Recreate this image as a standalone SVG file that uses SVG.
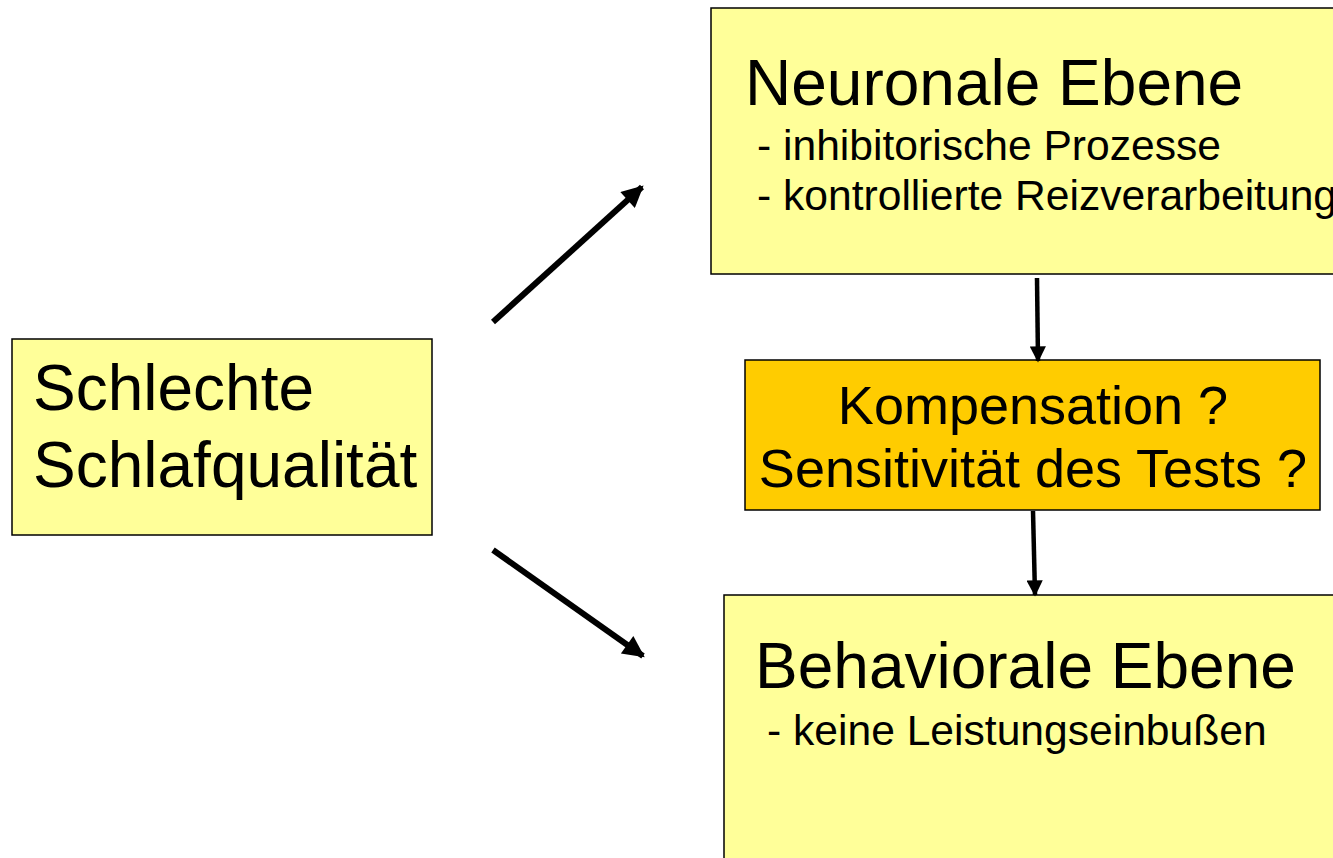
<svg xmlns="http://www.w3.org/2000/svg" width="1333" height="858" viewBox="0 0 1333 858">
<style>
  .box{fill:#FFFF99;stroke:#000;stroke-width:1.5}
  .orange{fill:#FFCC00;stroke:#000;stroke-width:1.5}
  .big{font-family:"Liberation Sans",Arial,sans-serif;font-size:64px;fill:#000}
  .mid{font-family:"Liberation Sans",Arial,sans-serif;font-size:54px;fill:#000}
  .small{font-family:"Liberation Sans",Arial,sans-serif;font-size:42.6px;fill:#000}
  .conn{stroke:#000;fill:none}
</style>
<defs>
  <marker id="ah" viewBox="0 0 10 10" refX="9" refY="5" markerWidth="4" markerHeight="3.6" orient="auto" markerUnits="strokeWidth">
    <path d="M0,0 L10,5 L0,10 Z" fill="#000"/>
  </marker>
</defs>
<rect width="1333" height="858" fill="#fff"/>
<g id="schlaf">
  <rect class="box" x="12" y="339" width="420" height="196"/>
  <text class="big" x="33" y="410">Schlechte</text>
  <text class="big" x="33" y="487">Schlafqualität</text>
</g>
<g id="neuronal">
  <rect class="box" x="711" y="8" width="640" height="266"/>
  <text class="big" x="745" y="105">Neuronale Ebene</text>
  <text class="small" x="757" y="160">- inhibitorische Prozesse</text>
  <text class="small" x="757" y="210">- kontrollierte Reizverarbeitung</text>
</g>
<g id="kompensation">
  <rect class="orange" x="745" y="360" width="575" height="150"/>
  <text class="mid" x="1033" y="424" text-anchor="middle">Kompensation ?</text>
  <text class="mid" x="1033" y="487" text-anchor="middle">Sensitivität des Tests ?</text>
</g>
<g id="behavioral">
  <rect class="box" x="724" y="595" width="640" height="280"/>
  <text class="big" x="755" y="688">Behaviorale Ebene</text>
  <text class="small" x="767" y="745">- keine Leistungseinbußen</text>
</g>
<g id="connectors">
  <line class="conn" x1="493" y1="322" x2="642" y2="187" stroke-width="6" marker-end="url(#ah)"/>
  <line class="conn" x1="493" y1="550" x2="643" y2="656" stroke-width="6" marker-end="url(#ah)"/>
  <line class="conn" x1="1037" y1="278" x2="1038" y2="361" stroke-width="4.5" marker-end="url(#ah)"/>
  <line class="conn" x1="1033" y1="511" x2="1035" y2="595" stroke-width="4.5" marker-end="url(#ah)"/>
</g>
</svg>
